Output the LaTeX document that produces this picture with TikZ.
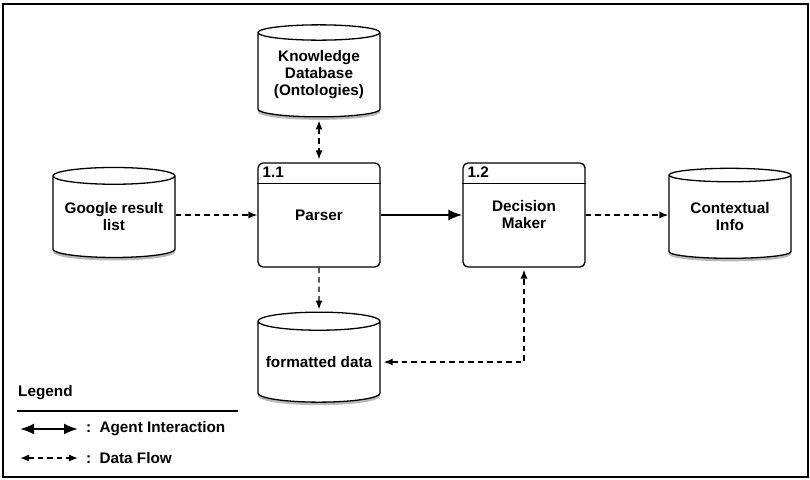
\documentclass[tikz,border=0pt]{standalone}
\usepackage{fontspec}
\setmainfont{Liberation Sans}
\usetikzlibrary{arrows.meta,positioning,shapes.geometric,shadows}

\begin{document}
\begin{tikzpicture}[
        x=1pt,y=-1pt,
        font=\fontsize{15.3}{17}\selectfont\bfseries,
        store/.style={draw,line width=1.3pt,fill=white,shape=cylinder,shape border rotate=90,aspect=0.17,
            minimum width=122,minimum height=90,inner sep=0pt,align=center,
            drop shadow={shadow xshift=0pt,shadow yshift=-3pt,opacity=0.35,fill=black!80}},
        process/.style={draw,line width=1.3pt,fill=white,rounded corners=5pt,minimum width=122,minimum height=104,align=center},
        procid/.style={anchor=north west,inner sep=0pt},
        agent/.style={-{Latex[length=14pt,width=11pt]},line width=2.2pt},
        flow/.style={-{Latex[length=9pt,width=7pt]},line width=1.3pt,dash pattern=on 5.5pt off 4pt},
        bothflow/.style={flow,{Latex[length=9pt,width=7pt]}-{Latex[length=9pt,width=7pt]}}
    ]

        \useasboundingbox (0,0) rectangle (810,479);
        \draw[line width=1.4pt] (3,4) rectangle (808,477);

        % data stores
        \node[store,minimum height=92] (kdb) at (319,75) {Knowledge\\Database\\(Ontologies)};
        \node[store] (google) at (114,217) {Google result\\list};
        \node[store] (context) at (730,217) {Contextual\\Info};
        \node[store] (fmt) at (319,362) {formatted data};

        % processes
        \node[process] (parser) at (319,215) {Parser};
        \node[process] (dm) at (524,215) {Decision\\Maker};
        \draw[line width=1.3pt] ([yshift=-21pt]parser.north west) -- ([yshift=-21pt]parser.north east);
        \draw[line width=1.3pt] ([yshift=-21pt]dm.north west) -- ([yshift=-21pt]dm.north east);
        \node[procid] (pid1) at ([xshift=5pt,yshift=-4pt]parser.north west) {1.1};
        \node[procid] (pid2) at ([xshift=5pt,yshift=-4pt]dm.north west) {1.2};

        % links
        \draw[bothflow,shorten <=3pt,shorten >=3pt] (kdb) -- (parser);
        \draw[flow] (google.east |- parser.west) -- (parser.west);
        \draw[agent] (parser) -- (dm);
        \draw[flow] (dm.east) -- (dm.east -| context.west);
        \draw[flow,shorten >=2pt] (parser) -- (fmt);
        \draw[bothflow,shorten <=3pt,shorten >=2pt] (fmt.east) -| (dm.south);

        % legend
        \node[anchor=west,inner sep=0pt] (legend) at (18,393) {Legend};
        \coordinate (rule-l) at (17,411);
        \coordinate (rule-r) at (238,411);
        \draw[line width=1.4pt] (rule-l) -- (rule-r);
        \coordinate (ai-l) at (20,429);
        \coordinate (ai-r) at (78,429);
        \draw[agent,{Latex[length=14pt,width=11pt]}-{Latex[length=14pt,width=11pt]}] (ai-l) -- (ai-r);
        \node[right=8pt of ai-r,inner sep=0pt] (ai-text) {:\, Agent Interaction};
        \coordinate (df-l) at (20,458);
        \coordinate (df-r) at (78,458);
        \draw[bothflow] (df-l) -- (df-r);
        \node[right=8pt of df-r,inner sep=0pt] (df-text) {:\, Data Flow};
    \end{tikzpicture}
\end{document}
